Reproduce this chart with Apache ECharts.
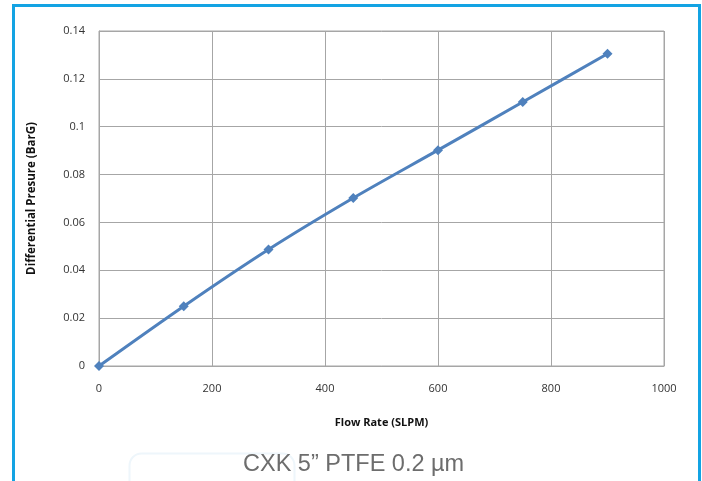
<!DOCTYPE html>
<html><head><meta charset="utf-8">
<script src="https://cdn.jsdelivr.net/npm/echarts@6/dist/echarts.min.js"></script>
<style>html,body{margin:0;padding:0;background:#fff}#c{width:702px;height:481px}</style>
</head><body><div id="c"></div>
<script>
const flowRate = [0, 150, 300, 450, 600, 750, 900];
const diffPressure = [0, 0.025, 0.0487, 0.0702, 0.0902, 0.1103, 0.1305];
const xTitle = 'Flow Rate (SLPM)';
const yTitle = 'Differential Presure (BarG)';
const caption = 'CXK 5\u201D PTFE 0.2 \u00B5m';

const chart = echarts.init(document.getElementById('c'));
chart.setOption({
  animation: false,
  grid: {left: 99, top: 31, right: 38, bottom: 115, show: true, borderColor: '#a6a6a6', borderWidth: 1},
  xAxis: {
    type: 'value', min: 0, max: 1000, interval: 200,
    axisLine: {show: true, lineStyle: {color: '#a6a6a6'}},
    axisTick: {show: false},
    splitLine: {show: true, lineStyle: {color: '#a6a6a6'}},
    axisLabel: {color: '#333', fontFamily: 'Open Sans', fontSize: 11, margin: 17, formatter: v => String(v)},
    name: xTitle, nameLocation: 'middle', nameGap: 51,
    nameTextStyle: {color: '#111', fontWeight: 'bold', fontFamily: 'Open Sans', fontSize: 11}
  },
  yAxis: {
    type: 'value', min: 0, max: 0.14, interval: 0.02,
    axisLine: {show: true, lineStyle: {color: '#a6a6a6'}},
    axisTick: {show: false},
    splitLine: {show: true, lineStyle: {color: '#a6a6a6'}},
    axisLabel: {color: '#333', fontFamily: 'Open Sans', fontSize: 11, margin: 14,
      formatter: v => String(+v.toFixed(2))},
    name: yTitle, nameLocation: 'middle', nameGap: 61,
    nameTextStyle: {color: '#111', fontWeight: 'bold', fontFamily: 'Open Sans', fontSize: 11.5}
  },
  series: [{
    type: 'line', smooth: 0.3,
    data: flowRate.map((x, i) => [x, diffPressure[i]]),
    symbol: 'diamond', symbolSize: 10, showSymbol: true,
    lineStyle: {color: '#4f81bd', width: 3},
    itemStyle: {color: '#4f81bd'}
  }],
  graphic: [
    {type: 'rect', left: 11, top: 3, shape: {width: 686, height: 490}, style: {fill: 'none', stroke: '#13a3e3', lineWidth: 3}, silent: true},
    {type: 'rect', left: 127, top: 451, shape: {width: 165, height: 60, r: 12}, style: {fill: 'none', stroke: '#eef6fb', lineWidth: 2}, silent: true},
    {type: 'text', left: 243, top: 453, style: {text: caption, fill: '#6d6d6d', font: '23.5px "Liberation Sans", Arial, sans-serif'}}
  ]
});
</script></body></html>
